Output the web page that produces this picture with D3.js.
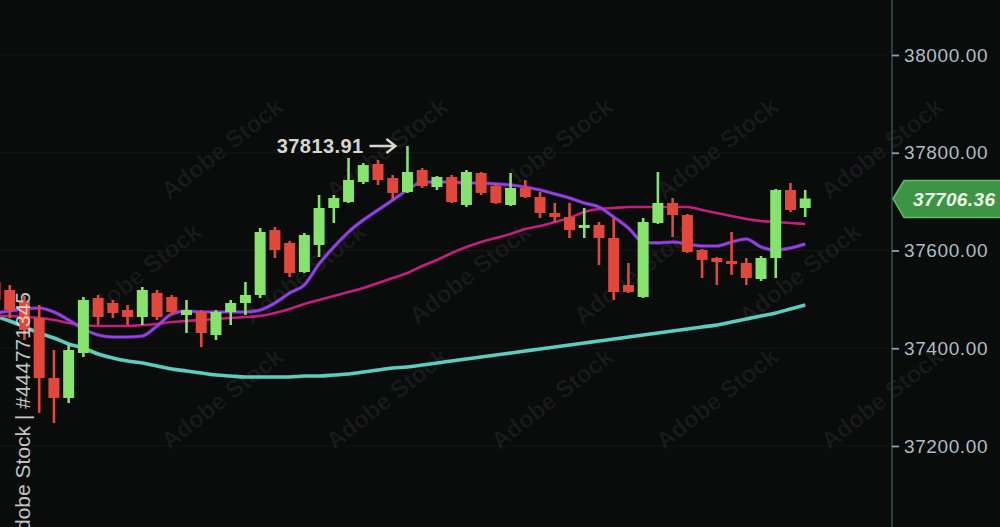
<!DOCTYPE html>
<html>
<head>
<meta charset="utf-8">
<script src="https://cdn.jsdelivr.net/npm/d3@7"></script>
<style>
  html, body { margin: 0; padding: 0; background: #0a0a0a; }
  svg { display: block; }
</style>
</head>
<body>
<svg id="chart" width="1000" height="527"></svg>
<script>
// ---- data ----
const opens  = [37535.6,37519.2,37494.6,37461.9,37339.1,37298.2,37390.3,37502.8,37492.6,37478.3,37463.9,37513.1,37504.9,37468.0,37474.2,37427.1,37474.2,37492.6,37509.0,37641.9,37615.4,37556.0,37611.3,37686.9,37699.2,37740.2,37777.0,37748.3,37719.7,37764.7,37729.9,37750.4,37693.1,37758.6,37731.9,37693.1,37727.9,37709.5,37676.7,37668.5,37646.0,37652.2,37625.6,37529.4,37504.9,37656.3,37697.2,37672.6,37601.0,37584.7,37578.5,37574.4,37541.7,37584.7,37723.8,37686.9];
const highs  = [37549.9,37529.4,37506.9,37488.5,37396.4,37406.7,37504.9,37508.9,37498.7,37488.5,37525.3,37519.2,37508.9,37498.7,37478.3,37478.3,37498.7,37535.6,37646.0,37648.1,37619.4,37635.8,37713.6,37713.6,37789.3,37779.0,37785.2,37754.5,37813.91,37768.8,37752.4,37754.5,37764.7,37760.6,37736.1,37758.6,37744.3,37719.7,37697.2,37697.2,37686.9,37658.3,37666.5,37574.4,37666.5,37760.6,37707.4,37674.7,37603.1,37586.7,37637.9,37584.7,37588.7,37725.8,37738.1,37723.8];
const lows   = [37488.5,37461.9,37416.9,37267.5,37247.1,37288.0,37382.1,37447.6,37461.9,37447.6,37447.6,37457.8,37468.0,37431.2,37402.6,37416.9,37447.6,37468.0,37502.8,37584.7,37545.8,37553.9,37586.7,37656.3,37697.2,37736.1,37734.0,37703.3,37717.7,37727.9,37723.8,37697.2,37689.0,37713.6,37695.1,37691.1,37707.4,37666.5,37656.3,37625.6,37625.6,37570.3,37498.7,37513.1,37502.8,37654.2,37627.6,37594.9,37543.7,37529.4,37549.9,37529.4,37537.6,37543.7,37678.8,37668.5];
const closes = [37498.7,37478.3,37437.4,37339.1,37298.2,37396.4,37498.7,37463.9,37472.1,37463.9,37519.2,37463.9,37474.2,37478.3,37431.2,37474.2,37492.6,37509.0,37637.9,37601.0,37553.9,37631.7,37686.9,37707.4,37744.3,37774.9,37744.3,37717.7,37760.6,37731.9,37750.4,37699.2,37760.6,37717.7,37697.2,37727.9,37709.5,37676.7,37668.5,37641.9,37652.2,37625.6,37515.1,37515.1,37658.3,37697.2,37672.6,37596.9,37580.6,37576.5,37572.4,37543.7,37584.7,37723.8,37682.9,37706.36];

const maFast = [37472.1,37476.2,37480.3,37482.4,37474.2,37457.8,37439.4,37427.1,37423.0,37423.0,37425.1,37445.5,37470.1,37476.2,37474.2,37474.2,37474.2,37474.2,37478.3,37492.6,37513.1,37529.4,37572.4,37607.2,37637.9,37662.4,37682.9,37703.3,37723.8,37740.2,37740.2,37740.2,37738.1,37738.1,37736.1,37734.0,37729.9,37723.8,37715.6,37707.4,37697.2,37689.0,37668.5,37646.0,37617.4,37615.4,37617.4,37613.3,37609.2,37609.2,37617.4,37623.5,37607.2,37601.0,37605.1,37613.3];
const maMid  = [37466.0,37466.0,37463.9,37461.9,37457.8,37451.7,37447.6,37445.5,37445.5,37445.5,37447.6,37449.6,37453.7,37455.8,37457.8,37459.9,37461.9,37463.9,37466.0,37472.1,37480.3,37490.5,37498.7,37506.9,37515.1,37523.3,37533.5,37543.7,37554.0,37568.3,37580.6,37594.9,37607.2,37617.4,37625.6,37633.8,37644.0,37650.1,37658.3,37666.5,37678.8,37684.9,37687.0,37689.0,37689.0,37689.0,37689.0,37689.0,37682.9,37676.7,37670.6,37664.5,37660.4,37658.3,37656.3,37654.2];
const maSlow = [37466.0,37455.8,37443.5,37431.2,37421.0,37408.7,37400.5,37388.2,37380.1,37373.9,37369.8,37363.7,37357.6,37353.5,37349.4,37345.3,37343.2,37341.2,37341.2,37341.2,37341.2,37343.2,37343.2,37345.3,37347.3,37351.4,37355.5,37359.6,37361.7,37365.7,37369.8,37373.9,37378.0,37382.1,37386.2,37390.3,37394.4,37398.5,37402.6,37406.7,37410.8,37414.8,37418.9,37423.0,37427.1,37431.2,37435.3,37439.4,37443.5,37447.6,37453.7,37459.9,37466.0,37472.1,37480.3,37488.5];

const yTicks = [37200, 37400, 37600, 37800, 38000];
const lastPrice = 37706.36;
const peakLabel = "37813.91";
const peakIndex = 28;
const watermarkId = "Adobe Stock | #444771345";
const watermarkText = "Adobe Stock";

// ---- drawing ----
const W = 1000, H = 527;
const svg = d3.select("#chart");
svg.append("rect").attr("width", W).attr("height", H).attr("fill", "#0a0b0b");

const idx = d3.range(opens.length);
const x = d3.scaleLinear().domain([0, opens.length - 1]).range([-5, 805.2]);
const y = d3.scaleLinear().domain([37200, 38000]).range([446, 55]);

const GREEN = "#86e36c", RED = "#e2473b";
const FONT = "Liberation Sans, Arial, sans-serif";

// faint watermark tiles (only those fully inside the frame)
const wm = svg.append("g").attr("fill", "#ffffff").attr("fill-opacity", 0.06)
  .attr("font-family", FONT).attr("font-weight", "bold").attr("font-size", 24);
const wmPos = [];
for (let r = 0; r < 5; r++) {
  for (let c = 0; c < 7; c++) {
    const px = c * 165 + (r % 2) * 82 - 20, py = r * 125 + 30;
    if (px > 66 && px < 934 && py > 48 && py < 480) wmPos.push([px, py]);
  }
}
wm.selectAll("text").data(wmPos).join("text")
  .attr("transform", d => `translate(${d[0]},${d[1]}) rotate(-38)`)
  .attr("text-anchor", "middle")
  .text(watermarkText);

// grid
const grid = svg.append("g");
grid.selectAll("line.h").data(yTicks).join("line")
  .attr("x1", 0).attr("x2", 892)
  .attr("y1", d => y(d)).attr("y2", d => y(d))
  .attr("stroke", "#ffffff").attr("stroke-opacity", 0.045);

// moving averages
const line = data => d3.line().x((d, i) => x(i)).y(d => y(d)).curve(d3.curveMonotoneX)(data);
svg.append("path").attr("d", line(maSlow)).attr("fill", "none")
  .attr("stroke", "#5fd8c9").attr("stroke-width", 3.6).attr("stroke-opacity", 0.95);
svg.append("path").attr("d", line(maMid)).attr("fill", "none")
  .attr("stroke", "#c51f7e").attr("stroke-width", 2.6);
svg.append("path").attr("d", line(maFast)).attr("fill", "none")
  .attr("stroke", "#c23ad8").attr("stroke-width", 3.6).attr("stroke-opacity", 0.6);
svg.append("path").attr("d", line(maFast)).attr("fill", "none")
  .attr("stroke", "#8a45f5").attr("stroke-width", 2.2);

// candles
const bodyW = 11;
const candles = svg.append("g").selectAll("g").data(idx).join("g")
  .attr("fill", i => closes[i] >= opens[i] ? GREEN : RED)
  .attr("stroke", i => closes[i] >= opens[i] ? GREEN : RED);
candles.append("line")
  .attr("x1", i => x(i)).attr("x2", i => x(i))
  .attr("y1", i => y(highs[i])).attr("y2", i => y(lows[i]))
  .attr("stroke-width", 2.6);
candles.append("rect")
  .attr("x", i => x(i) - bodyW / 2).attr("width", bodyW)
  .attr("y", i => y(Math.max(opens[i], closes[i])))
  .attr("height", i => Math.max(2.5, Math.abs(y(opens[i]) - y(closes[i]))))
  .attr("stroke", "none");

// right axis
const axisX = 892;
svg.append("line").attr("x1", axisX).attr("x2", axisX).attr("y1", 0).attr("y2", H)
  .attr("stroke", "#2c3c42").attr("stroke-width", 2);
const axis = d3.axisRight(y).tickValues(yTicks).tickFormat(d3.format(".2f")).tickSize(7).tickPadding(5);
const ax = svg.append("g").attr("transform", `translate(${axisX},0)`).call(axis);
ax.select(".domain").remove();
ax.selectAll(".tick line").attr("stroke", "#8fa3a8").attr("stroke-width", 1.8);
ax.selectAll(".tick text").attr("fill", "#aebdc1")
  .attr("font-family", FONT).attr("font-size", 19).attr("letter-spacing", 0.6);

// last price tag
const ty = y(lastPrice);
const tag = svg.append("g");
tag.append("path")
  .attr("d", `M${axisX + 1},${ty} L${axisX + 12},${ty - 18} L${W + 5},${ty - 18} L${W + 5},${ty + 19} L${axisX + 12},${ty + 19} Z`)
  .attr("fill", "#3c9444").attr("stroke", "#5cc062").attr("stroke-width", 1.5);
tag.append("text").attr("x", 913).attr("y", ty + 7)
  .attr("fill", "#eef9ee").attr("font-family", FONT)
  .attr("font-size", 19).attr("font-weight", "bold").attr("font-style", "italic").attr("letter-spacing", 0.4)
  .text(d3.format(".2f")(lastPrice));

// peak annotation
const px = x(peakIndex), py = y(highs[peakIndex]);
svg.append("text").attr("x", px - 44).attr("y", py + 7)
  .attr("text-anchor", "end").attr("fill", "#d6d6cf")
  .attr("font-family", FONT).attr("font-size", 20).attr("font-weight", "bold").attr("letter-spacing", 0.4)
  .text(peakLabel);
svg.append("path")
  .attr("d", `M${px - 38},${py} L${px - 13},${py} M${px - 21},${py - 7} L${px - 12},${py} L${px - 21},${py + 7}`)
  .attr("fill", "none").attr("stroke", "#d6d6cf").attr("stroke-width", 2.4);

// vertical id watermark
svg.append("text").attr("transform", "translate(30,292) rotate(-90)")
  .attr("text-anchor", "end").attr("fill", "#e6e6e6").attr("fill-opacity", 0.85)
  .attr("font-family", FONT).attr("font-size", 21)
  .text(watermarkId);
</script>
</body>
</html>
